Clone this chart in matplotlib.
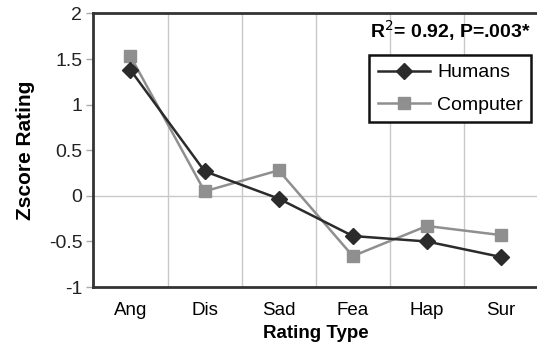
import matplotlib
matplotlib.use("Agg")
import matplotlib.pyplot as plt
import numpy as np

categories = ["Ang", "Dis", "Sad", "Fea", "Hap", "Sur"]
humans = [1.38, 0.27, -0.03, -0.44, -0.50, -0.67]
computer = [1.53, 0.05, 0.28, -0.66, -0.33, -0.43]
yticks = [-1, -0.5, 0, 0.5, 1, 1.5, 2]
ytick_labels = ["-1", "-0.5", "0", "0.5", "1", "1.5", "2"]

plt.rcParams['font.family'] = ['Liberation Sans', 'DejaVu Sans']

fig = plt.figure(figsize=(5.37, 3.54), dpi=100)
ax = fig.add_axes([0.174, 0.189, 0.828, 0.773])

x = np.arange(len(categories))
ax.plot(x, humans, color="#2b2b2b", lw=1.8, marker="D", markersize=8,
        label="Humans", zorder=4)
ax.plot(x, computer, color="#8f8f8f", lw=1.8, marker="s", markersize=8.5,
        label="Computer", zorder=3)

ax.set_xlim(-0.5, len(categories) - 0.5)
ax.set_ylim(-1, 2)
ax.set_xticks(x)
ax.set_xticklabels(categories)
ax.set_yticks(yticks)
ax.set_yticklabels(ytick_labels)

for b in np.arange(0.5, len(categories) - 0.5, 1.0):
    ax.axvline(b, color="#c8c8c8", lw=1.0, zorder=1)
ax.axhline(0, color="#c8c8c8", lw=1.0, zorder=1)

for s in ["left", "top", "bottom"]:
    ax.spines[s].set_linewidth(2.0)
    ax.spines[s].set_color("#333333")
ax.spines["right"].set_visible(False)

ax.tick_params(axis="x", length=0, labelsize=13.5, pad=11)
ax.tick_params(axis="y", length=5, width=1.0, direction="out", labelsize=14,
               pad=3, labelcolor="#222222", color="#aaaaaa")

ax.set_xlabel("Rating Type", fontsize=13.5, fontweight="bold", labelpad=4)
ax.set_ylabel("Zscore Rating", fontsize=15, fontweight="bold", labelpad=10)

ax.text(0.983, 0.939, "R$^2$= 0.92, P=.003*", transform=ax.transAxes,
        ha="right", va="center", fontsize=14, fontweight="bold")

leg = ax.legend(loc="upper right", bbox_to_anchor=(0.985, 0.848), fontsize=14,
                frameon=True, fancybox=False, handlelength=2.7,
                borderpad=0.45, labelspacing=0.75, handletextpad=0.35,
                borderaxespad=0)
leg.get_frame().set_edgecolor("#111111")
leg.get_frame().set_linewidth(1.8)
leg.get_frame().set_alpha(1)

fig.savefig("out.png", dpi=100)
